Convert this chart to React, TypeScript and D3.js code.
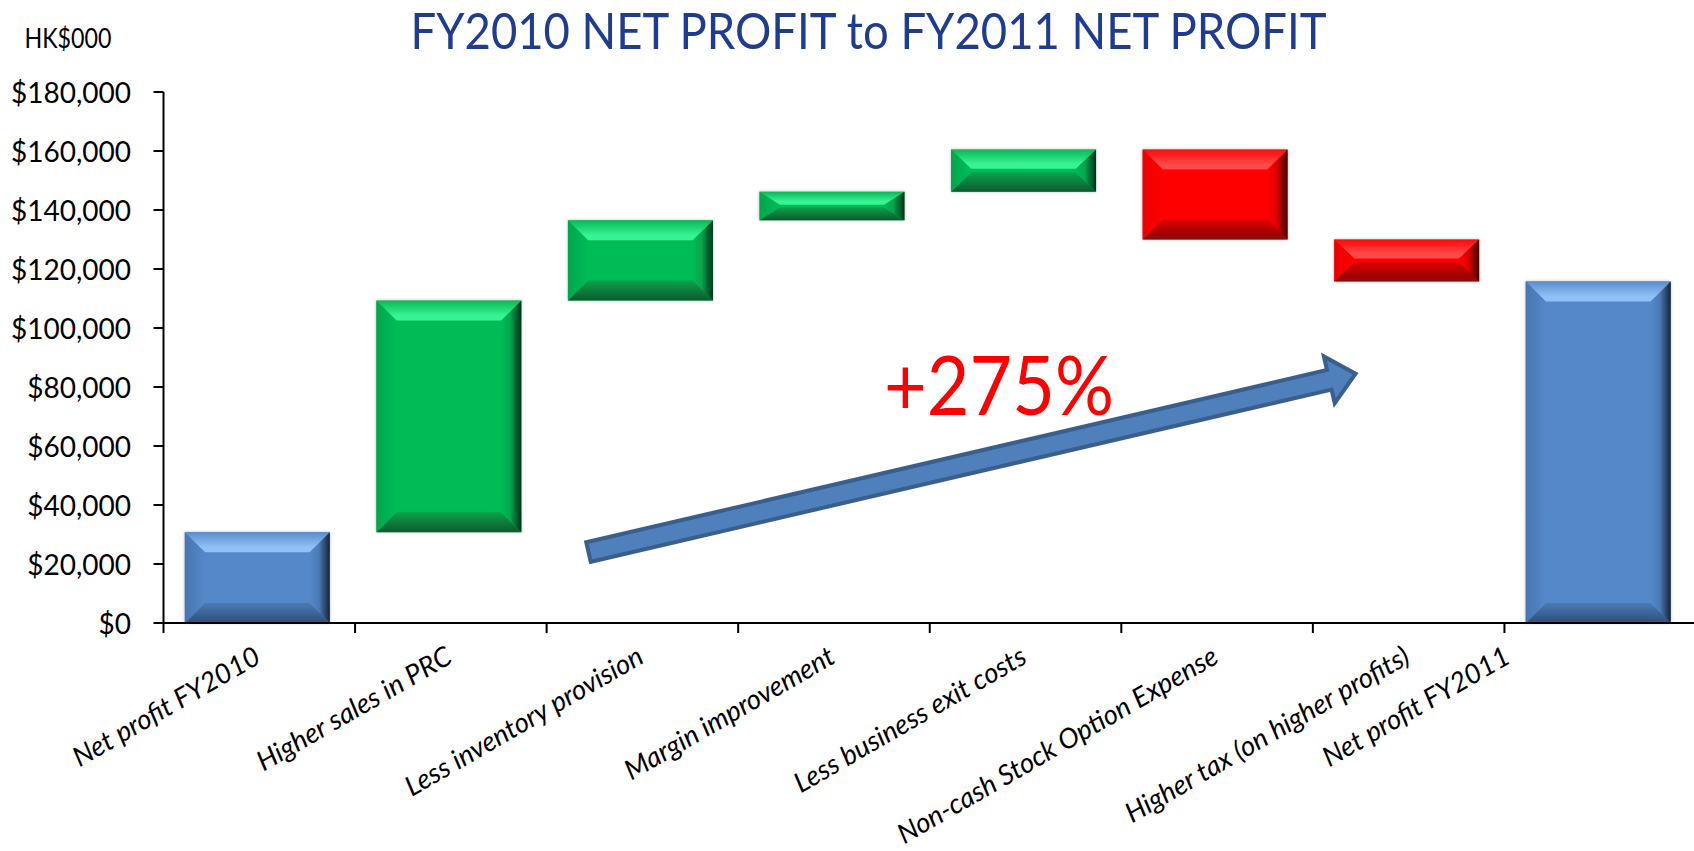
import React, { useRef, useEffect } from 'react';
import * as d3 from 'd3';

// categories along the x axis
const categories = [
  'Net profit FY2010',
  'Higher sales in PRC',
  'Less inventory provision',
  'Margin improvement',
  'Less business exit costs',
  'Non-cash Stock Option Expense',
  'Higher tax (on higher profits)',
  'Net profit FY2011',
];
// HK$000 : totals are full bars, the others are steps from the running total
const changes = [30800, 78500, 27200, 9700, 14300, -30500, -14200, 115800];
const kinds = ['total', 'up', 'up', 'up', 'up', 'down', 'down', 'total'];
const yTicks = [0, 20000, 40000, 60000, 80000, 100000, 120000, 140000, 160000, 180000];
const growthLabel = '+275%';

const palette: Record<string, any> = {
  total: { base: '#5588C8', light: '#90C0F6', outer: '#5A8CCB', dark: '#2E4F78', inner: '#4B7AB6', side: '#4775B0', edge: '#152336' },
  up: { base: '#05BC57', light: '#38F393', outer: '#08B856', dark: '#0A5A2E', inner: '#07A24B', side: '#06A64D', edge: '#00311A' },
  down: { base: '#FF0000', light: '#FF4848', outer: '#FF0A0A', dark: '#860808', inner: '#E00000', side: '#EC0000', edge: '#400000' },
};

const font = "Lato, 'Open Sans', sans-serif";

const WaterfallChart = () => {
  const ref = useRef<SVGSVGElement>(null);

  useEffect(() => {
    const svg = d3.select(ref.current);
    svg.selectAll('*').remove();

    const width = 1694;
    const left = 163.5;
    const top = 92;
    const bottom = 623;

    const xScale = d3.scaleBand().domain(categories).range([left, 1696]);
    const yScale = d3.scaleLinear().domain([0, 180000]).range([bottom, top]);
    const bw = xScale.bandwidth();
    const barW = 145;

    // running total -> bar extents
    let running = 0;
    const bars = categories.map((c, i) => {
      let lo = 0;
      let hi = 0;
      if (kinds[i] === 'total') {
        lo = 0;
        hi = changes[i];
        running = changes[i];
      } else {
        lo = Math.min(running, running + changes[i]);
        hi = Math.max(running, running + changes[i]);
        running += changes[i];
      }
      return { c, kind: kinds[i], lo, hi };
    });

    const defs = svg.append('defs');
    // soft grey halo round the bars
    const halo = defs.append('filter').attr('id', 'halo').attr('x', '-10%').attr('y', '-10%').attr('width', '120%').attr('height', '120%');
    halo.append('feGaussianBlur').attr('in', 'SourceAlpha').attr('stdDeviation', 1.6).attr('result', 'blur');
    halo.append('feFlood').attr('flood-color', '#8a8a8a').attr('flood-opacity', 0.55);
    halo.append('feComposite').attr('in2', 'blur').attr('operator', 'in').attr('result', 'shadow');
    const merge = halo.append('feMerge');
    merge.append('feMergeNode').attr('in', 'shadow');
    merge.append('feMergeNode').attr('in', 'SourceGraphic');

    // bevel gradients per colour
    Object.keys(palette).forEach(k => {
      const p = palette[k];
      const grad = (id: string, x2: number, y2: number, stops: [number, string][]) => {
        const g = defs.append('linearGradient').attr('id', id).attr('x1', 0).attr('y1', 0).attr('x2', x2).attr('y2', y2);
        stops.forEach(([o, col]) => g.append('stop').attr('offset', o).attr('stop-color', col));
      };
      grad(`${k}-top`, 0, 1, [[0, p.outer], [0.75, p.light], [1, p.light]]);
      grad(`${k}-bot`, 0, 1, [[0, p.inner], [1, p.dark]]);
      grad(`${k}-left`, 1, 0, [[0, p.side], [1, p.base]]);
      grad(`${k}-right`, 1, 0, [[0, p.base], [0.45, p.inner], [1, p.edge]]);
    });

    // title
    svg.append('text')
      .attr('x', 868.5).attr('y', 49)
      .attr('text-anchor', 'middle')
      .attr('textLength', 916).attr('lengthAdjust', 'spacingAndGlyphs')
      .style('font-family', font).style('font-size', '51px')
      .style('fill', '#1F3C8E')
      .text('FY2010 NET PROFIT to FY2011 NET PROFIT');

    svg.append('text')
      .attr('x', 24.5).attr('y', 47.5)
      .attr('textLength', 87).attr('lengthAdjust', 'spacingAndGlyphs')
      .style('font-family', font).style('font-size', '27px')
      .style('fill', '#000')
      .text('HK$000');

    // bars with bevel
    const g = svg.append('g');
    bars.forEach(b => {
      const p = palette[b.kind];
      const x0 = xScale(b.c)! + (bw - barW) / 2 - 2;
      const x1 = x0 + barW;
      const y0 = yScale(b.hi);
      const y1 = yScale(b.lo);
      const h = y1 - y0;
      const bv = Math.min(20, h / 2.2);
      const bh = Math.min(20, barW / 2);
      const bar = g.append('g').attr('filter', 'url(#halo)');
      bar.append('rect').attr('x', x0).attr('y', y0).attr('width', barW).attr('height', h).attr('fill', p.base);
      const poly = (pts: number[][], fill: string) =>
        bar.append('polygon').attr('points', pts.map(q => q.join(',')).join(' ')).attr('fill', fill);
      poly([[x0, y0], [x1, y0], [x1 - bh, y0 + bv], [x0 + bh, y0 + bv]], `url(#${b.kind}-top)`);
      poly([[x0 + bh, y1 - bv], [x1 - bh, y1 - bv], [x1, y1], [x0, y1]], `url(#${b.kind}-bot)`);
      poly([[x0, y0], [x0 + bh, y0 + bv], [x0 + bh, y1 - bv], [x0, y1]], `url(#${b.kind}-left)`);
      poly([[x1 - bh, y0 + bv], [x1, y0], [x1, y1], [x1 - bh, y1 - bv]], `url(#${b.kind}-right)`);
    });

    // y axis
    const yAxis = svg.append('g');
    yAxis.append('line').attr('x1', left).attr('x2', left).attr('y1', top).attr('y2', bottom)
      .attr('stroke', '#000').attr('stroke-width', 2);
    yTicks.forEach(t => {
      yAxis.append('line').attr('x1', left - 10).attr('x2', left).attr('y1', yScale(t)).attr('y2', yScale(t))
        .attr('stroke', '#000').attr('stroke-width', 2);
      yAxis.append('text')
        .attr('x', 131).attr('y', yScale(t))
        .attr('text-anchor', 'end').attr('dominant-baseline', 'central')
        .style('font-family', font).style('font-size', '28px').style('fill', '#000')
        .text(d3.format('$,')(t));
    });

    // x axis
    const xAxis = svg.append('g');
    xAxis.append('line').attr('x1', left).attr('x2', width).attr('y1', bottom).attr('y2', bottom)
      .attr('stroke', '#000').attr('stroke-width', 2);
    categories.forEach((c, i) => {
      const bx = xScale(c)!;
      xAxis.append('line').attr('x1', bx).attr('x2', bx).attr('y1', bottom).attr('y2', bottom + 10)
        .attr('stroke', '#000').attr('stroke-width', 2);
      // last label is pulled in by the chart edge
      const lx = Math.min(bx + bw / 2 + 3, 1512);
      xAxis.append('text')
        .attr('transform', `translate(${lx},${662}) rotate(-30)`)
        .attr('text-anchor', 'end')
        .style('font-family', font).style('font-size', '27.5px').style('font-style', 'italic').style('fill', '#000')
        .text(c);
    });

    // growth arrow
    const tail = [588.5, 552];
    const tip = [1358.5, 373];
    const ang = Math.atan2(tip[1] - tail[1], tip[0] - tail[0]) * 180 / Math.PI;
    const L = Math.hypot(tip[0] - tail[0], tip[1] - tail[1]) - 3;
    const w = 20;
    const hw = 48;
    const hl = 27;
    svg.append('polygon')
      .attr('transform', `translate(${tail[0]},${tail[1]}) rotate(${ang})`)
      .attr('points', [[0, -w / 2], [L - hl, -w / 2], [L - hl, -hw / 2], [L, 0], [L - hl, hw / 2], [L - hl, w / 2], [0, w / 2]]
        .map(q => q.join(',')).join(' '))
      .attr('fill', '#4F80BC').attr('stroke', '#3A5F8C').attr('stroke-width', 4).attr('stroke-linejoin', 'miter');

    svg.append('text')
      .attr('x', 884).attr('y', 415)
      .attr('textLength', 230).attr('lengthAdjust', 'spacingAndGlyphs')
      .style('font-family', font).style('font-size', '81px').style('fill', '#FF0000')
      .text(growthLabel);
  }, []);

  return <svg ref={ref} width="1694" height="851" style={{ position: 'absolute', left: 0, top: 0, background: '#fff' }}></svg>;
};

export default function App() {
  return <WaterfallChart />;
}
